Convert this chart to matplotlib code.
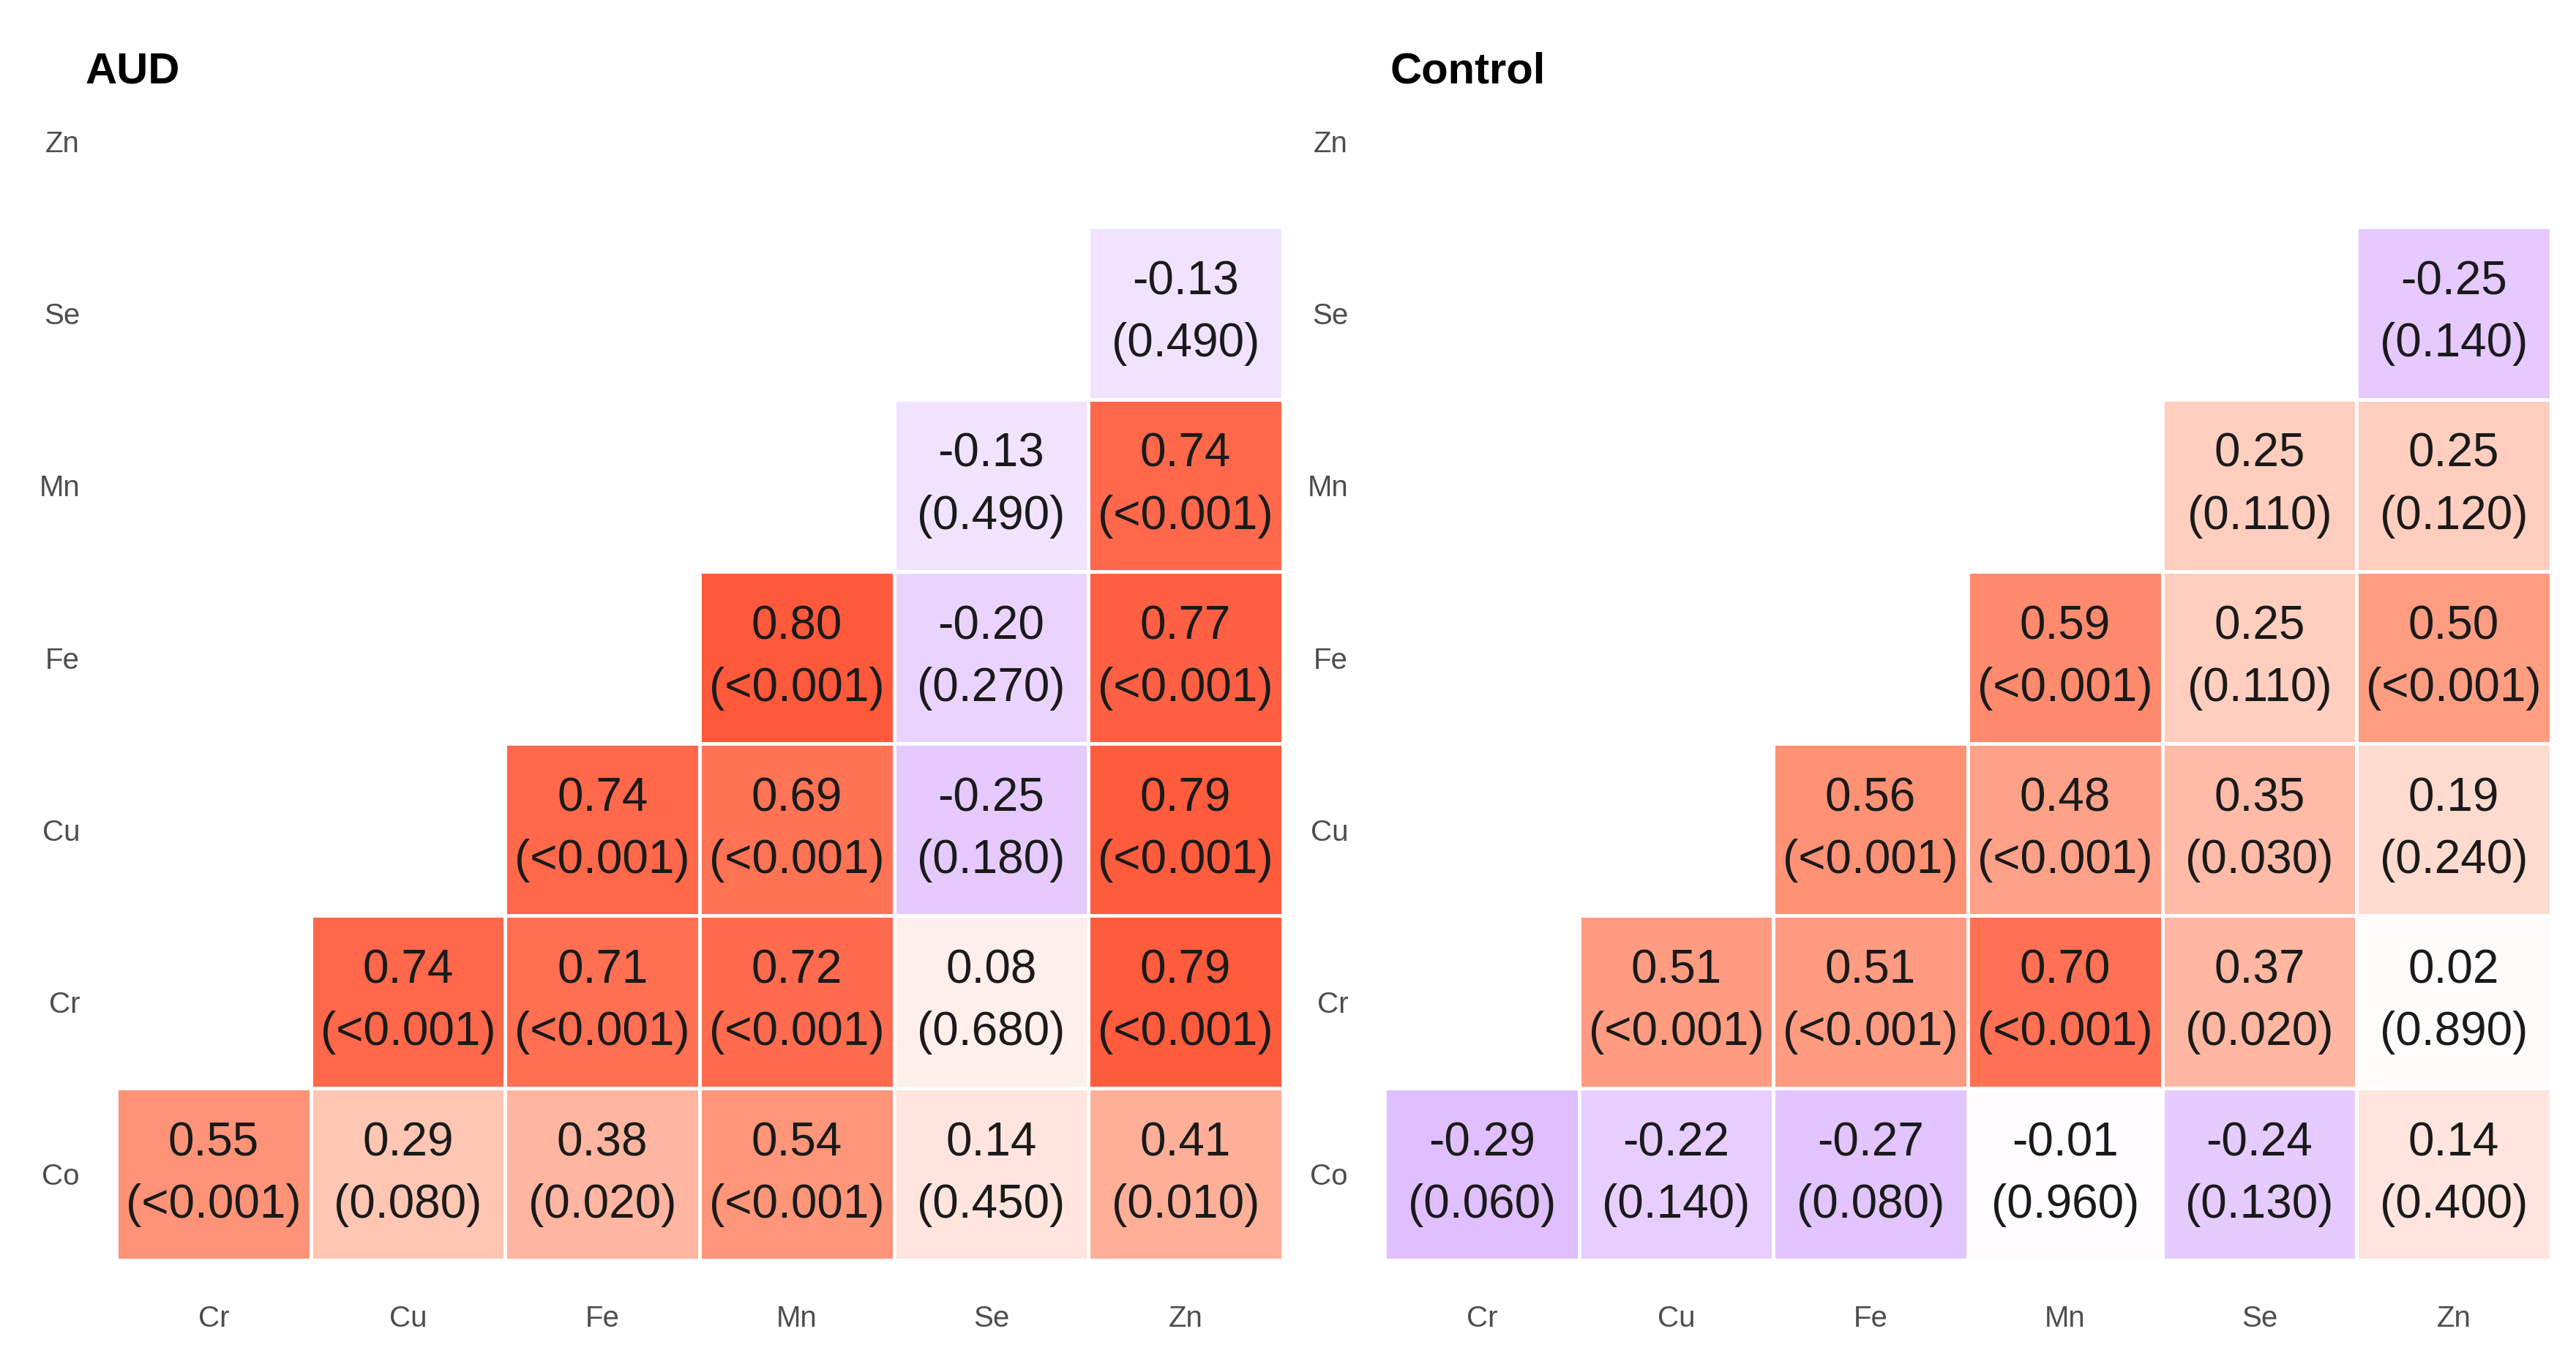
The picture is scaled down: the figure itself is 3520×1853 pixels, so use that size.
import numpy as np
import matplotlib
matplotlib.use("Agg")
import matplotlib.pyplot as plt
from matplotlib.colors import LinearSegmentedColormap, Normalize

plt.rcParams["font.family"] = ["Liberation Sans", "DejaVu Sans"]

# elements on x (columns) and y (rows, bottom to top)
cols = ["Cr", "Cu", "Fe", "Mn", "Se", "Zn"]
rows = ["Co", "Cr", "Cu", "Fe", "Mn", "Se", "Zn"]

nan = np.nan
# correlation coefficients, one list per row (bottom to top)
aud_r = [
    [0.55, 0.29, 0.38, 0.54, 0.14, 0.41],
    [nan, 0.74, 0.71, 0.72, 0.08, 0.79],
    [nan, nan, 0.74, 0.69, -0.25, 0.79],
    [nan, nan, nan, 0.80, -0.20, 0.77],
    [nan, nan, nan, nan, -0.13, 0.74],
    [nan, nan, nan, nan, nan, -0.13],
    [nan, nan, nan, nan, nan, nan],
]
aud_p = [
    ["<0.001", "0.080", "0.020", "<0.001", "0.450", "0.010"],
    ["", "<0.001", "<0.001", "<0.001", "0.680", "<0.001"],
    ["", "", "<0.001", "<0.001", "0.180", "<0.001"],
    ["", "", "", "<0.001", "0.270", "<0.001"],
    ["", "", "", "", "0.490", "<0.001"],
    ["", "", "", "", "", "0.490"],
    ["", "", "", "", "", ""],
]
ctl_r = [
    [-0.29, -0.22, -0.27, -0.01, -0.24, 0.14],
    [nan, 0.51, 0.51, 0.70, 0.37, 0.02],
    [nan, nan, 0.56, 0.48, 0.35, 0.19],
    [nan, nan, nan, 0.59, 0.25, 0.50],
    [nan, nan, nan, nan, 0.25, 0.25],
    [nan, nan, nan, nan, nan, -0.25],
    [nan, nan, nan, nan, nan, nan],
]
ctl_p = [
    ["0.060", "0.140", "0.080", "0.960", "0.130", "0.400"],
    ["", "<0.001", "<0.001", "<0.001", "0.020", "0.890"],
    ["", "", "<0.001", "<0.001", "0.030", "0.240"],
    ["", "", "", "<0.001", "0.110", "<0.001"],
    ["", "", "", "", "0.110", "0.120"],
    ["", "", "", "", "", "0.140"],
    ["", "", "", "", "", ""],
]

# purple - white - orangered gradient
cmap = LinearSegmentedColormap.from_list("corr", [
    (0.0, "#9426FF"),
    (0.355, "#E0C0FF"),
    (0.5, "#FFFFFF"),
    (0.57, "#FFE4DC"),
    (0.645, "#FFC7B5"),
    (0.775, "#FF9478"),
    (0.9, "#FF5A3C"),
    (1.0, "#FF3A14"),
])
norm = Normalize(-1, 1)

fig = plt.figure(figsize=(35.2, 18.53), dpi=100)

panels = [("AUD", aud_r, aud_p, 0.0452, 0.0332),
          ("Control", ctl_r, ctl_p, 0.5375, 0.5396)]
for title, r, p, left, tx in panels:
    ax = fig.add_axes([left, 0.0707, 0.4528, 0.8888])
    for i in range(len(rows)):
        for j in range(len(cols)):
            v = r[i][j]
            if np.isnan(v):
                continue
            ax.add_patch(plt.Rectangle((j - 0.5, i - 0.5), 1, 1,
                                       facecolor=cmap(norm(v)),
                                       edgecolor="white", linewidth=3.5))
            ax.text(j, i + 0.18, f"{v:.2f}", ha="center", va="center",
                    fontsize=46, color="#1A1A1A")
            ax.text(j, i - 0.18, f"({p[i][j]})", ha="center", va="center",
                    fontsize=46, color="#1A1A1A")
    ax.set_xlim(-0.5, len(cols) - 0.5)
    ax.set_ylim(-0.5, len(rows) - 0.5)
    ax.set_xticks(range(len(cols)))
    ax.set_xticklabels(cols)
    ax.set_yticks(range(len(rows)))
    ax.set_yticklabels(rows)
    ax.tick_params(length=0, labelsize=29, labelcolor="#4D4D4D")
    ax.tick_params(axis="x", pad=44)
    ax.tick_params(axis="y", pad=36)
    for s in ax.spines.values():
        s.set_visible(False)
    fig.text(tx, 0.947, title, fontsize=43, fontweight="bold",
             ha="left", va="center")

fig.savefig("out.png", dpi=100, facecolor="white")
